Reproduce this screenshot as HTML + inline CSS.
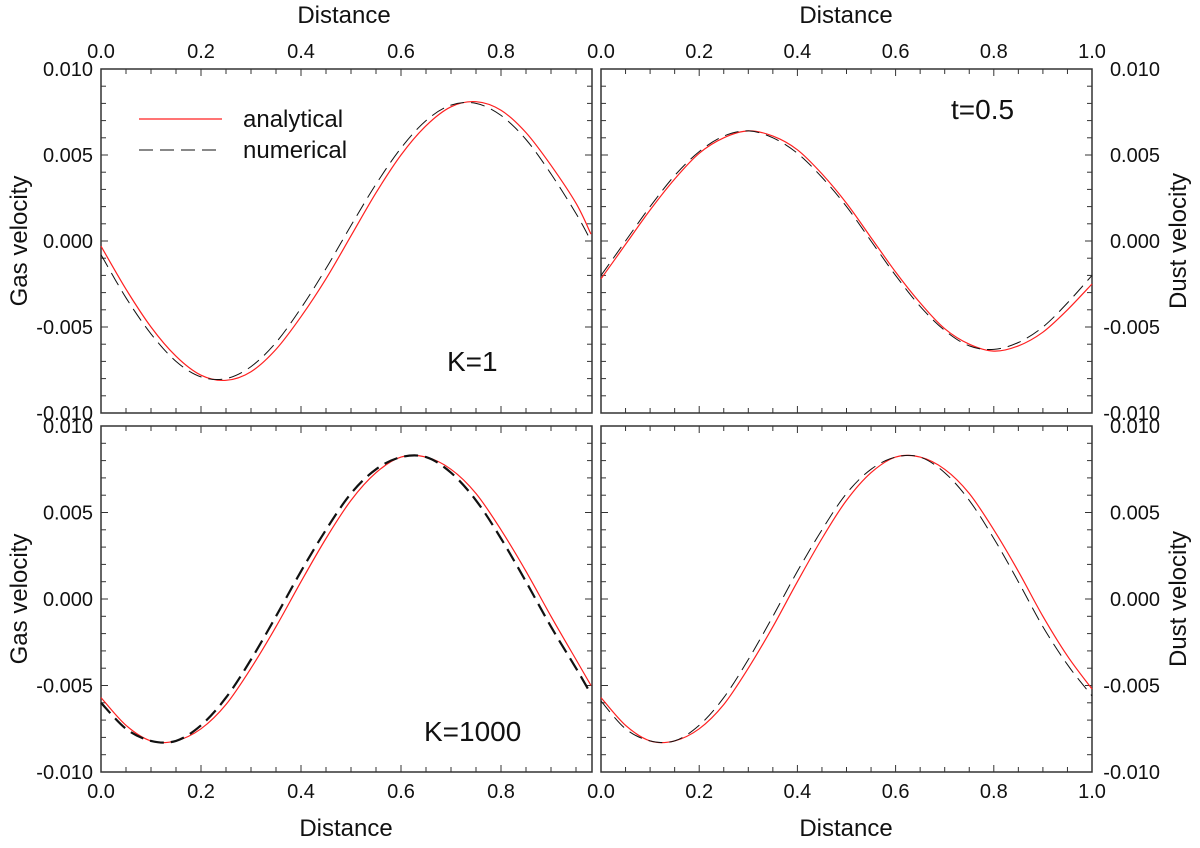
<!DOCTYPE html>
<html><head><meta charset="utf-8">
<style>
body{margin:0;background:#fff;position:relative;width:1200px;height:848px;overflow:hidden}
svg{display:block;font-family:"Liberation Sans",Arial,sans-serif;}
</style></head>
<body>
<svg id="chart" width="1200" height="848" viewBox="0 0 1200 848">
<g id="g"></g>
</svg>
<script>
// data arrays
const xsLeft = [0,0.05,0.1,0.15,0.2,0.25,0.3,0.35,0.4,0.45,0.5,0.55,0.6,0.65,0.7,0.75,0.8,0.85,0.9,0.95,0.98];
const xsRight = [0,0.05,0.1,0.15,0.2,0.25,0.3,0.35,0.4,0.45,0.5,0.55,0.6,0.65,0.7,0.75,0.8,0.85,0.9,0.95,1.0];
const gasK1Analytical = [-0.0003,-0.0028,-0.0050,-0.0067,-0.0078,-0.0081,-0.0076,-0.0063,-0.0044,-0.0022,0.0003,0.0028,0.0050,0.0067,0.0078,0.0081,0.0076,0.0063,0.0044,0.0022,0.0004];
const gasK1Numerical = [-0.0008,-0.0033,-0.0054,-0.0070,-0.0079,-0.0080,-0.0073,-0.0059,-0.0039,-0.0016,0.0009,0.0033,0.0054,0.0070,0.0079,0.0080,0.0073,0.0059,0.0039,0.0016,0.0000];
const dustK1Analytical = [-0.0022,-0.0002,0.0018,0.0036,0.0051,0.0060,0.0064,0.0061,0.0053,0.0039,0.0022,0.0002,-0.0018,-0.0036,-0.0051,-0.0060,-0.0064,-0.0061,-0.0053,-0.0040,-0.0025];
const dustK1Numerical = [-0.0020,0.0000,0.0020,0.0038,0.0052,0.0061,0.0064,0.0060,0.0051,0.0037,0.0020,0.0000,-0.0020,-0.0038,-0.0052,-0.0061,-0.0063,-0.0059,-0.0050,-0.0036,-0.0020];
const gasK1000Analytical = [-0.0057,-0.0073,-0.0082,-0.0082,-0.0075,-0.0061,-0.0040,-0.0016,0.0010,0.0035,0.0057,0.0073,0.0082,0.0082,0.0075,0.0061,0.0040,0.0016,-0.0010,-0.0035,-0.0050];
const gasK1000Numerical = [-0.0060,-0.0075,-0.0082,-0.0082,-0.0073,-0.0057,-0.0035,-0.0010,0.0016,0.0040,0.0061,0.0075,0.0082,0.0082,0.0073,0.0057,0.0035,0.0010,-0.0016,-0.0040,-0.0055];
const dustK1000Analytical = [-0.0057,-0.0073,-0.0082,-0.0082,-0.0075,-0.0061,-0.0040,-0.0016,0.0010,0.0035,0.0057,0.0073,0.0082,0.0082,0.0075,0.0061,0.0040,0.0016,-0.0010,-0.0033,-0.0052];
const dustK1000Numerical = [-0.0059,-0.0075,-0.0082,-0.0082,-0.0073,-0.0057,-0.0035,-0.0010,0.0016,0.0040,0.0061,0.0075,0.0082,0.0082,0.0073,0.0057,0.0035,0.0010,-0.0016,-0.0038,-0.0056];
const xTickLabelsLeft = ["0.0","0.2","0.4","0.6","0.8"];
const xTickLabelsRight = ["0.0","0.2","0.4","0.6","0.8","1.0"];
const yTickLabels = ["0.010","0.005","0.000","-0.005","-0.010"];

const NS="http://www.w3.org/2000/svg";
const root=document.getElementById('g');
function mk(tag,attrs,parent,text){const e=document.createElementNS(NS,tag);for(const k in attrs)e.setAttribute(k,attrs[k]);if(text!==undefined)e.textContent=text;(parent||root).appendChild(e);return e;}

const panels=[
 {name:'gas-k1-panel',x0:101,x1:592,scale:500,y0:69,y1:413,side:'left',top:true,a:gasK1Analytical,n:gasK1Numerical,xs:xsLeft,thick:false,labels:xTickLabelsLeft},
 {name:'dust-k1-panel',x0:601,x1:1092,scale:491,y0:69,y1:413,side:'right',top:true,a:dustK1Analytical,n:dustK1Numerical,xs:xsRight,thick:false,labels:xTickLabelsRight},
 {name:'gas-k1000-panel',x0:101,x1:592,scale:500,y0:426,y1:772,side:'left',top:false,a:gasK1000Analytical,n:gasK1000Numerical,xs:xsLeft,thick:true,labels:xTickLabelsLeft},
 {name:'dust-k1000-panel',x0:601,x1:1092,scale:491,y0:426,y1:772,side:'right',top:false,a:dustK1000Analytical,n:dustK1000Numerical,xs:xsRight,thick:false,labels:xTickLabelsRight}
];

function pathFrom(xs,ys,X,Y){
  const p=xs.map((x,i)=>[X(x),Y(ys[i])]);
  let d='M'+p[0][0].toFixed(1)+','+p[0][1].toFixed(1);
  for(let i=0;i<p.length-1;i++){
    const p0=p[Math.max(0,i-1)],p1=p[i],p2=p[i+1],p3=p[Math.min(p.length-1,i+2)];
    const c1=[p1[0]+(p2[0]-p0[0])/6,p1[1]+(p2[1]-p0[1])/6];
    const c2=[p2[0]-(p3[0]-p1[0])/6,p2[1]-(p3[1]-p1[1])/6];
    d+=` C${c1[0].toFixed(1)},${c1[1].toFixed(1)} ${c2[0].toFixed(1)},${c2[1].toFixed(1)} ${p2[0].toFixed(1)},${p2[1].toFixed(1)}`;
  }
  return d;
}

panels.forEach(P=>{
  const grp=mk('g',{});
  
  
  const X=v=>P.x0+v*P.scale;
  const Y=v=>P.y0+(0.010-v)/0.020*(P.y1-P.y0);
  const fr=mk('rect',{x:P.x0,y:P.y0,width:P.x1-P.x0,height:P.y1-P.y0,fill:'none',stroke:'#333','stroke-width':1.5},grp);
  
  
  for(let i=0;i<=20;i++){
    const v=i*0.05; const x=X(v); if(x>P.x1+0.5)break;
    const len=(i%4===0)?7:5;
    mk('line',{x1:x,x2:x,y1:P.y0,y2:P.y0+len,stroke:'#333','stroke-width':1},grp);
    mk('line',{x1:x,x2:x,y1:P.y1,y2:P.y1-len,stroke:'#333','stroke-width':1},grp);
  }
  for(let i=0;i<=20;i++){
    const v=0.010-i*0.001; const y=Y(v);
    const len=(i%5===0)?7:5;
    mk('line',{x1:P.x0,x2:P.x0+len,y1:y,y2:y,stroke:'#333','stroke-width':1},grp);
    mk('line',{x1:P.x1,x2:P.x1-len,y1:y,y2:y,stroke:'#333','stroke-width':1},grp);
  }
  P.labels.forEach((t,i)=>{
    const ly=P.top?58:798;
    const tx=mk('text',{x:X(i*0.2),y:ly,'font-size':20,'text-anchor':'middle',fill:'#111'},grp,t);
    
    
  });
  yTickLabels.forEach((t,i)=>{
    const y=Y(0.010-i*0.005);
    const tx=P.side==='left'?mk('text',{x:93,y:y+7,'font-size':20,'text-anchor':'end',fill:'#111'},grp,t)
                            :mk('text',{x:1160,y:y+7,'font-size':20,'text-anchor':'end',fill:'#111'},grp,t);
    
    
  });
  const ra=mk('path',{d:pathFrom(P.xs,P.a,X,Y),fill:'none',stroke:'#ff2020','stroke-width':1.2},grp);
  
  
  const nu=mk('path',{d:pathFrom(P.xs,P.n,X,Y),fill:'none',stroke:'#111','stroke-width':P.thick?2.2:1,'stroke-dasharray':'14,7'},grp);
  
  
});
</script>
<svg width="1200" height="848" style="position:absolute;left:0;top:0" font-family="Liberation Sans, Arial, sans-serif">
<text x="344" y="23" font-size="24" text-anchor="middle" fill="#111">Distance</text>
<text x="846" y="23" font-size="24" text-anchor="middle" fill="#111">Distance</text>
<text x="346" y="836" font-size="24" text-anchor="middle" fill="#111">Distance</text>
<text x="846" y="836" font-size="24" text-anchor="middle" fill="#111">Distance</text>
<text transform="translate(27,241) rotate(-90)" font-size="24" text-anchor="middle" fill="#111">Gas velocity</text>
<text transform="translate(27,599) rotate(-90)" font-size="24" text-anchor="middle" fill="#111">Gas velocity</text>
<text transform="translate(1186,241) rotate(-90)" font-size="24" text-anchor="middle" fill="#111">Dust velocity</text>
<text transform="translate(1186,599) rotate(-90)" font-size="24" text-anchor="middle" fill="#111">Dust velocity</text>
<g>
<line x1="139" y1="119" x2="222" y2="119" stroke="#ff2020" stroke-width="1.2"/>
<text x="243" y="127" font-size="24" fill="#111">analytical</text>
<line x1="139" y1="150" x2="222" y2="150" stroke="#111" stroke-width="1" stroke-dasharray="14,7"/>
<text x="243" y="158" font-size="24" fill="#111">numerical</text>
</g>
<text x="447" y="371" font-size="28" fill="#111">K=1</text>
<text x="951" y="119" font-size="28" fill="#111">t=0.5</text>
<text x="424" y="741" font-size="28" fill="#111">K=1000</text>
</svg>
</body></html>
